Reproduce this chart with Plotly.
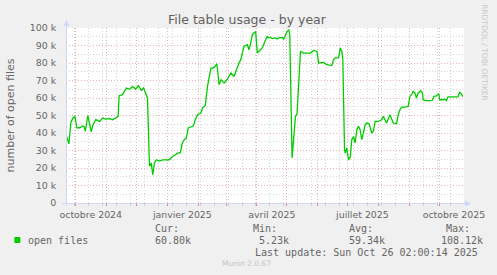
import plotly.graph_objects as go

# ---------------- data ----------------
dates = [
    "2024-09-21 16:00", "2024-09-24", "2024-09-26", "2024-09-28", "2024-09-30",
    "2024-10-02", "2024-10-05", "2024-10-08", "2024-10-09 12:00", "2024-10-10 12:00",
    "2024-10-13", "2024-10-16 12:00", "2024-10-18", "2024-10-21", "2024-10-25",
    "2024-10-28", "2024-10-31", "2024-11-04", "2024-11-07", "2024-11-10 17:00",
    "2024-11-12 12:00", "2024-11-13 12:00", "2024-11-17", "2024-11-20 17:00", "2024-11-24",
    "2024-11-27", "2024-11-30", "2024-12-03", "2024-12-05 17:00", "2024-12-08",
    "2024-12-10 17:00", "2024-12-12", "2024-12-14", "2024-12-15 17:00", "2024-12-17 07:00",
    "2024-12-19", "2024-12-21", "2024-12-24", "2024-12-27", "2025-01-03",
    "2025-01-06", "2025-01-09", "2025-01-12", "2025-01-14", "2025-01-16",
    "2025-01-18", "2025-01-20", "2025-01-22", "2025-01-25", "2025-01-27",
    "2025-01-29", "2025-01-31 07:00", "2025-02-03 17:00", "2025-02-05 07:00", "2025-02-08",
    "2025-02-10 07:00", "2025-02-13 17:00", "2025-02-16", "2025-02-18", "2025-02-19 17:00",
    "2025-02-22", "2025-02-24", "2025-02-25 12:00", "2025-02-27", "2025-03-02",
    "2025-03-05 17:00", "2025-03-09", "2025-03-12 07:00", "2025-03-14", "2025-03-15 17:00",
    "2025-03-19", "2025-03-22 07:00", "2025-03-24", "2025-03-25 17:00", "2025-03-27 07:00",
    "2025-03-29", "2025-03-30 17:00", "2025-04-01 07:00", "2025-04-03", "2025-04-04 17:00",
    "2025-04-06 07:00", "2025-04-09 17:00", "2025-04-11 07:00", "2025-04-13", "2025-04-14 17:00",
    "2025-04-16 07:00", "2025-04-19 17:00", "2025-04-21 07:00", "2025-04-23", "2025-04-26 07:00",
    "2025-04-28", "2025-04-29 17:00", "2025-05-01 07:00", "2025-05-03", "2025-05-04",
    "2025-05-06 07:00", "2025-05-08", "2025-05-09 17:00", "2025-05-11 07:00", "2025-05-13",
    "2025-05-14 17:00", "2025-05-18", "2025-05-24 17:00", "2025-05-28", "2025-05-31 07:00",
    "2025-06-02", "2025-06-07", "2025-06-10 07:00", "2025-06-13 17:00", "2025-06-15 07:00",
    "2025-06-17", "2025-06-18 17:00", "2025-06-22", "2025-06-23 17:00", "2025-06-25 07:00",
    "2025-06-26 07:00", "2025-06-28", "2025-06-28 17:00", "2025-06-30 07:00", "2025-07-02",
    "2025-07-03 17:00", "2025-07-05 07:00", "2025-07-07", "2025-07-08 17:00", "2025-07-10 07:00",
    "2025-07-12", "2025-07-13 17:00", "2025-07-15 07:00", "2025-07-17", "2025-07-18 17:00",
    "2025-07-20 07:00", "2025-07-22 17:00", "2025-07-25 07:00", "2025-07-27", "2025-07-28 17:00",
    "2025-08-01", "2025-08-04 07:00", "2025-08-06", "2025-08-07 17:00", "2025-08-09 07:00",
    "2025-08-12 17:00", "2025-08-14 07:00", "2025-08-16", "2025-08-19 07:00", "2025-08-21",
    "2025-08-22 17:00", "2025-08-24 07:00", "2025-08-27 17:00", "2025-08-31", "2025-09-01 17:00",
    "2025-09-03 07:00", "2025-09-05", "2025-09-06 17:00", "2025-09-08 07:00", "2025-09-10",
    "2025-09-12 17:00", "2025-09-14 07:00", "2025-09-15", "2025-09-18 07:00", "2025-09-21 17:00",
    "2025-09-24 07:00", "2025-09-26", "2025-09-28 07:00", "2025-09-30 17:00", "2025-10-01 17:00",
    "2025-10-05", "2025-10-06 17:00", "2025-10-08 07:00", "2025-10-10", "2025-10-13 07:00",
    "2025-10-16 17:00", "2025-10-18 07:00", "2025-10-20", "2025-10-21 17:00", "2025-10-23 07:00",
    "2025-10-25",
]

open_files_k = [
    38.0, 33.8, 46.0, 48.6, 49.5,
    42.9, 43.0, 44.0, 43.5, 41.0,
    50.0, 40.6, 44.5, 47.6, 46.6,
    48.6, 48.0, 48.2, 47.5, 48.6,
    49.5, 61.3, 61.9, 65.7, 65.0,
    66.6, 65.0, 67.0, 64.3, 65.7,
    61.0, 60.0, 21.0, 22.9, 16.2,
    22.9, 24.7, 24.0, 24.7, 24.7,
    26.6, 27.6, 28.6, 28.6, 34.3,
    36.2, 37.1, 42.9, 43.4, 44.0,
    47.6, 50.5, 51.4, 54.3, 55.6,
    66.6, 77.1, 77.1, 78.1, 79.6,
    67.6, 70.5, 69.5, 68.6, 70.5,
    74.3, 72.4, 78.1, 80.0, 81.9,
    89.5, 90.5, 87.6, 91.4, 96.2,
    97.1, 98.0, 85.7, 86.6, 87.2,
    88.6, 93.3, 95.2, 94.3, 94.6,
    93.9, 94.3, 93.7, 94.3, 94.6,
    93.7, 96.0, 98.1, 99.0, 96.0,
    25.7, 38.0, 49.5, 51.0, 66.6,
    86.6, 85.7, 85.7, 87.2, 86.6,
    80.0, 80.3, 79.0, 78.5, 78.5,
    81.9, 82.9, 82.9, 88.6, 86.6,
    81.9, 30.5, 28.6, 31.4, 24.7,
    26.0, 36.2, 38.0, 34.3, 41.9,
    43.8, 41.9, 36.2, 40.0, 44.7,
    45.7, 45.3, 40.0, 41.0, 46.6,
    46.6, 47.6, 49.5, 47.6, 45.7,
    50.5, 47.6, 45.7, 45.3, 50.5,
    53.3, 54.8, 54.8, 55.2, 60.9,
    61.9, 63.8, 62.9, 60.0, 62.9,
    64.2, 62.9, 59.0, 58.5, 58.5,
    58.7, 60.9, 61.2, 62.5, 59.0,
    59.0, 59.4, 58.5, 60.6, 60.6,
    60.6, 61.0, 60.6, 63.2, 62.5,
    60.8,
]
open_files = [v * 1000 for v in open_files_k]

y_tick_vals = [0, 10000, 20000, 30000, 40000, 50000, 60000, 70000, 80000, 90000, 100000]
y_tick_text = ["0", "10 k", "20 k", "30 k", "40 k", "50 k", "60 k", "70 k", "80 k", "90 k", "100 k"]

x_label_vals = ["2024-10-16", "2025-01-16", "2025-04-16", "2025-07-16", "2025-10-16"]
x_label_text = ["octobre 2024", "janvier 2025", "avril 2025", "juillet 2025", "octobre 2025"]

x_range = ["2024-09-21 02:00", "2025-10-26 02:00"]

series_name = "open files"
stat_labels = ["Cur:", "Min:", "Avg:", "Max:"]
stat_values = ["60.80k", " 5.23k", "59.34k", "108.12k"]

title = "File table usage - by year"
y_title = "number of open files"
last_update = "Last update: Sun Oct 26 02:00:14 2025"
footer = "Munin 2.0.67"
side_text = "RRDTOOL / TOBI OETIKER"

# ---------------- layout geometry ----------------
W_FIG, H_FIG = 497, 275
L, T, PW, PH = 66, 28, 401, 175


def px(x):
    return (x - L) / PW


def py(y):
    return (T + PH - y) / PH


FONT = "DejaVu Sans"
MONO = "DejaVu Sans Mono"
TXT = "#666666"
AXIS = "#CFD6F8"
MGRID = "#eab3b3"
GRID = "#d6d6d6"

fig = go.Figure()
fig.add_trace(go.Scatter(
    x=dates, y=open_files, mode="lines",
    line=dict(color="#00CC00", width=1.3),
    showlegend=False, hoverinfo="skip",
))
# invisible companion trace for the label axis
fig.add_trace(go.Scatter(
    x=dates, y=open_files, mode="lines", xaxis="x2",
    line=dict(color="rgba(0,0,0,0)", width=0),
    showlegend=False, hoverinfo="skip",
))

fig.update_layout(
    width=W_FIG, height=H_FIG,
    margin=dict(l=L, r=W_FIG - L - PW, t=T, b=H_FIG - T - PH),
    paper_bgcolor="#F0F0F0", plot_bgcolor="#FFFFFF",
    font=dict(family=FONT, color=TXT, size=9.4),
    xaxis=dict(
        type="date", range=x_range,
        tick0="2024-10-01", dtick="M1",
        showgrid=True, gridcolor=MGRID, griddash="1px,2px", gridwidth=1,
        showticklabels=False, ticks="outside", ticklen=2, tickcolor="#e08080",
        minor=dict(tick0="2024-10-14", dtick=14 * 86400000, showgrid=True,
                   gridcolor=GRID, griddash="1px,2px", gridwidth=1,
                   ticks="outside", ticklen=2, tickcolor="#c8c8c8"),
        zeroline=False, showline=False,
    ),
    xaxis2=dict(
        type="date", range=x_range, overlaying="x", anchor="y", side="bottom",
        tickmode="array", tickvals=x_label_vals, ticktext=x_label_text,
        showgrid=False, zeroline=False, showline=False,
        ticks="outside", ticklen=3, tickcolor="rgba(0,0,0,0)",
        tickfont=dict(family=FONT, size=9.4, color=TXT),
    ),
    yaxis=dict(
        range=[0, 100000], tickmode="array", tickvals=y_tick_vals, ticktext=y_tick_text,
        showgrid=True, gridcolor=MGRID, griddash="1px,2px", gridwidth=1,
        minor=dict(dtick=5000, showgrid=True, gridcolor=GRID, griddash="1px,2px", gridwidth=1),
        zeroline=False, showline=False,
        ticks="outside", ticklen=7, tickcolor="rgba(0,0,0,0)",
        tickfont=dict(family=FONT, size=9.4, color=TXT),
    ),
)

shapes = [
    # y axis line + arrow
    dict(type="line", xref="paper", yref="paper", x0=px(66.5), x1=px(66.5), y0=py(206), y1=py(26),
         line=dict(color=AXIS, width=1)),
    dict(type="path", xref="paper", yref="paper",
         path=f"M {px(63.5)} {py(26)} L {px(69.5)} {py(26)} L {px(66.5)} {py(20)} Z",
         fillcolor=AXIS, line=dict(color=AXIS, width=0)),
    # x axis line + arrow
    dict(type="line", xref="paper", yref="paper", x0=px(62), x1=px(468), y0=py(203.5), y1=py(203.5),
         line=dict(color=AXIS, width=1)),
    dict(type="path", xref="paper", yref="paper",
         path=f"M {px(468)} {py(200.5)} L {px(468)} {py(206.5)} L {px(474)} {py(203.5)} Z",
         fillcolor=AXIS, line=dict(color=AXIS, width=0)),
    # legend swatch
    dict(type="rect", xref="paper", yref="paper", x0=px(14), x1=px(20), y0=py(243), y1=py(237),
         fillcolor="#00CC00", line=dict(width=0)),
]
fig.update_layout(shapes=shapes)

ann = []


def text(s, x, y, size, color=TXT, family=FONT, xanchor="left", angle=0):
    ann.append(dict(text=s, x=px(x), y=py(y), xref="paper", yref="paper",
                    xanchor=xanchor, yanchor="middle", showarrow=False,
                    textangle=angle, font=dict(family=family, size=size, color=color)))


text(title, 248.5, 20, 12.5, color="#606060", xanchor="center")
text(y_title, 10, 115, 11, xanchor="center", angle=-90)
text(side_text, 488, 53, 7.5, color="#c8c8c8", xanchor="center", angle=90)
text(series_name, 26, 240, 10, family=MONO)
stat_label_x = [154, 252, 349, 446.5]
stat_value_x = [154, 252, 349, 441.5]
for lab, val, lx, vx in zip(stat_labels, stat_values, stat_label_x, stat_value_x):
    text(lab, lx, 228, 10, family=MONO)
    text(val.replace(" ", "\u00a0"), vx, 240, 10, family=MONO)
text(last_update, 483, 252, 10, family=MONO, xanchor="right")
text(footer, 248, 263.5, 7.5, color="#c4c4c4", xanchor="center")
fig.update_layout(annotations=ann)

fig.write_html("out.html")
